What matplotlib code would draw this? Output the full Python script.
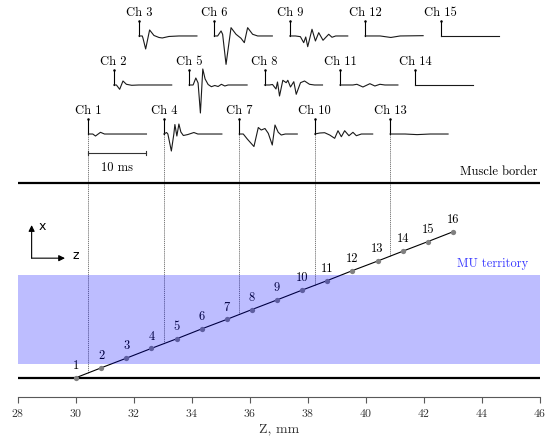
import numpy as np
import matplotlib.pyplot as plt

plt.rcParams['font.family'] = 'cmr10'
plt.rcParams['axes.formatter.use_mathtext'] = True
plt.rcParams['mathtext.fontset'] = 'cm'

# fibre source points: z position and depth x, mm
point_z = [30.00, 30.87, 31.73, 32.60, 33.47, 34.33, 35.20, 36.07,
           36.93, 37.80, 38.67, 39.53, 40.40, 41.27, 42.13, 43.00]
point_x = [0.00, 0.34, 0.67, 1.01, 1.34, 1.68, 2.01, 2.35,
           2.68, 3.02, 3.35, 3.69, 4.02, 4.36, 4.69, 5.03]
point_labels = [str(i) for i in range(1, 17)]

# electrode positions along z, mm
elec_z = [30.43, 31.30, 32.17, 33.03, 33.90, 34.77, 35.63, 36.50,
          37.37, 38.23, 39.10, 39.97, 40.83, 41.70, 42.57]

border_x = [0.0, 6.72]
mu_x = [0.47, 3.55]

# recorded signals per channel: time (ms) / amplitude (a.u.)
sig_t = [
    [0, 0.74, 1.21, 2.07, 2.76, 10],
    [0, 0.47, 1.03, 1.6, 2.19, 3.1, 4.31, 10],
    [0, 0.57, 0.69, 1.16, 1.84, 2.59, 3.45, 4.02, 5.17, 6.9, 10],
    [0, 0.47, 0.69, 1.29, 1.72, 1.9, 2.24, 2.59, 2.93, 3.36, 4.14, 5.17, 5.86, 10],
    [0, 0.69, 1.16, 1.55, 1.95, 2.36, 2.76, 3.28, 3.84, 4.43, 5.0, 5.57, 6.16, 6.72, 10],
    [0, 0.57, 1.16, 1.43, 2.02, 2.88, 3.74, 4.6, 5.17, 5.74, 6.6, 7.47, 10],
    [0, 0.69, 1.38, 2.53, 3.28, 3.79, 4.43, 5.0, 5.69, 6.16, 6.72, 7.24, 7.93, 10],
    [0, 0.86, 1.38, 1.98, 2.24, 2.59, 3.16, 3.74, 4.02, 4.48, 5.05, 5.47, 6.21, 6.9, 7.76, 8.62, 10],
    [0, 0.98, 1.84, 2.41, 2.76, 3.1, 3.84, 4.43, 5.0, 5.74, 6.72, 7.29, 7.93, 10],
    [0, 0.86, 1.72, 2.59, 3.45, 4.02, 4.6, 5.17, 5.91, 6.6, 7.19, 8.05, 10],
    [0, 2.24, 2.93, 3.97, 5.17, 6.03, 6.9, 7.76, 10],
    [0, 2.59, 4.43, 6.03, 10],
    [0, 2.59, 4.66, 6.9, 10],
    [0, 10],
    [0, 10],
]
sig_v = [
    [0, 0, -2, 1.7, 0, 0],
    [0, 0, -4.3, 4, 0.7, -0.3, 0, 0],
    [0, 0, -2, -13, 6, 0.5, -1.5, -2, -0.5, 0, 0],
    [0, 1.5, 0, -17, 0, 9.5, -2, 10, 2, -1.5, -0.5, 1.5, 0, 0],
    [0, 0, 7, 2, -28, 16, 6, 0.5, -1.7, -0.5, -1.5, 0.7, -1, 0, 0],
    [0, 0, 5, 1.7, -28.4, 8.3, 1.7, -2.3, -6.7, 8.3, 1.7, 0, 0],
    [0, 0, -5, -12.5, 6.5, 4, 5.5, 0.7, -11, 9, 1.7, -1, 0, 0],
    [0, 0, 0.5, -4, 3, -11, 4.7, 2.3, 4.7, -2, 3.3, -9.3, 2.3, 4, 0.7, 0, 0],
    [0, 0, -0.7, -6.7, -1, -10.7, 6.7, -5, 3.3, -4.3, 1.7, -1.3, 0, 0],
    [0, 1, 1.3, -1, -4.3, 3.3, -2.7, 3.3, -1.7, 1.7, -1.7, 0, 0],
    [0, 0, 0.7, -2, 1.3, -1, 0.7, 0, 0],
    [0, 0, -1.5, 0, 0.3],
    [0, 0, -0.6, 0, 0],
    [0, 0],
    [0, 0],
]

row_base = [8.40, 10.09, 11.78]
ms_to_mm = 0.2
amp_to_mm = 1 / 29
tick_h = 0.52

fig = plt.figure(figsize=(5.54, 4.43), dpi=100)
ax = fig.add_axes([18 / 554, 46 / 443, 522 / 554, 397 / 443])
ax.set_xlim(28, 46)
ax.set_ylim(-0.666, 13.02)

# muscle borders
for b in border_x:
    ax.axhline(b, color='k', lw=1.6, zorder=2)
ax.text(45.93, 7.09, 'Muscle border', ha='right', va='center', fontsize=9)

# MU territory (drawn on top, translucent)
ax.axhspan(mu_x[0], mu_x[1], color='blue', alpha=0.26, lw=0, zorder=6)
ax.text(45.6, 3.92, 'MU territory', ha='right', va='center', fontsize=9, color='#3a3aff')

# fibre line and points
ax.plot(point_z, point_x, color='k', lw=0.8, zorder=3)
ax.plot(point_z, point_x, 'o', color='0.5', ms=3.8, mec='none', zorder=4)
for z, x, lab in zip(point_z, point_x, point_labels):
    ax.text(z, x + 0.2, lab, ha='center', va='bottom', fontsize=9, zorder=4)

# signals
for i in range(15):
    row = i % 3
    base = row_base[row]
    z0 = elec_z[i]
    tz = z0 + np.array(sig_t[i]) * ms_to_mm
    ty = base + np.array(sig_v[i]) * amp_to_mm
    ax.plot([z0, z0], [base, base + tick_h], color='k', lw=0.8)
    ax.plot(z0, base + tick_h, 'k.', ms=1.6)
    ax.plot(tz, ty, color='0.1', lw=0.8)
    ax.text(z0, base + tick_h + 0.17, 'Ch %d' % (i + 1), ha='center', va='baseline', fontsize=9)
    if row == 0:
        xf = np.interp(z0, point_z, point_x)
        ax.plot([z0, z0], [base, xf], color='0.4', lw=0.6, ls=(0, (1.5, 1)), zorder=1)

# 10 ms scale bar
zb = elec_z[0]
yb = 7.75
ax.plot([zb, zb + 10 * ms_to_mm], [yb, yb], color='0.2', lw=0.8)
ax.plot([zb, zb], [yb - 0.08, yb + 0.08], color='0.2', lw=0.8)
ax.plot([zb + 10 * ms_to_mm] * 2, [yb - 0.08, yb + 0.08], color='0.2', lw=0.8)
ax.text(zb + 5 * ms_to_mm, 7.23, '10 ms', ha='center', va='center', fontsize=9)

# coordinate icon
ox, oy = 28.47, 4.12
ap = dict(arrowstyle='-|>', color='k', lw=0.8, mutation_scale=9, shrinkA=0, shrinkB=0)
ax.annotate('', xy=(ox, oy + 1.14), xytext=(ox, oy), arrowprops=ap)
ax.annotate('', xy=(ox + 1.15, oy), xytext=(ox, oy), arrowprops=ap)
ax.text(28.85, 5.21, 'x', family='DejaVu Sans', fontsize=9, ha='center', va='center')
ax.text(30.0, 4.21, 'z', family='DejaVu Sans', fontsize=9, ha='center', va='center')

for s in ['left', 'right', 'top']:
    ax.spines[s].set_visible(False)
ax.spines['bottom'].set_color('0.35')
ax.set_yticks([])
ax.set_xticks(np.arange(28, 47, 2))
ax.tick_params(axis='x', direction='out', length=4, width=0.8, colors='0.35',
               labelcolor='0.2', labelsize=8.5, pad=3)
ax.set_xlabel('Z, mm', fontsize=10, labelpad=3, color='0.2')

fig.savefig('out.png', dpi=100)
